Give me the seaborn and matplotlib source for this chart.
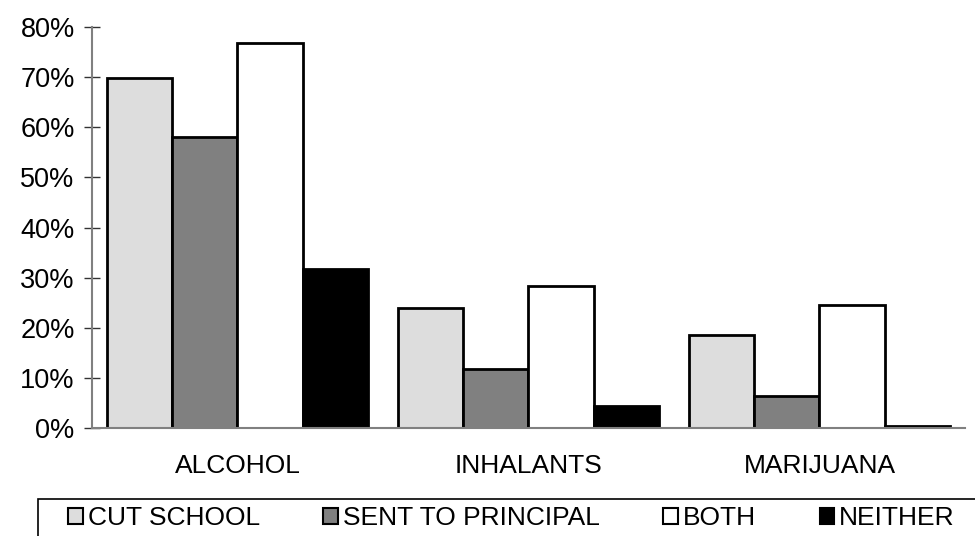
import pandas as pd
import numpy as np
import matplotlib
matplotlib.use("Agg")
import matplotlib.pyplot as plt
import seaborn as sns
from matplotlib.ticker import PercentFormatter, FixedLocator

# data
categories = ['ALCOHOL', 'INHALANTS', 'MARIJUANA']
series = ['CUT SCHOOL', 'SENT TO PRINCIPAL', 'BOTH', 'NEITHER']
cut_school = [0.698, 0.240, 0.186]
sent_to_principal = [0.580, 0.118, 0.063]
both = [0.768, 0.284, 0.245]
neither = [0.317, 0.043, 0.004]

colors = ['#DDDDDD', '#808080', '#FFFFFF', '#000000']

rows = []
for name, vals in zip(series, [cut_school, sent_to_principal, both, neither]):
    for cat, v in zip(categories, vals):
        rows.append({'Category': cat, 'Series': name, 'Value': v})
df = pd.DataFrame(rows)

sns.set_style('white')
plt.rcParams['font.family'] = ['Liberation Sans', 'DejaVu Sans']
plt.rcParams['text.color'] = 'black'
plt.rcParams['xtick.labelcolor'] = 'black'
plt.rcParams['ytick.labelcolor'] = 'black'

fig = plt.figure(figsize=(9.75, 5.36), dpi=100)
ax = fig.add_axes([92 / 975, 108 / 536, 873 / 975, 401 / 536])

sns.barplot(data=df, x='Category', y='Value', hue='Series', hue_order=series,
            palette=colors, edgecolor='black', linewidth=2, width=0.895, gap=0,
            ax=ax, legend=False)

ax.set_xlim(-0.5, 2.5)
ax.set_ylim(0, 0.8)
ax.yaxis.set_major_formatter(PercentFormatter(1.0, decimals=0))
ax.set_yticks(np.arange(0, 0.81, 0.1))
ax.set_xlabel('')
ax.set_ylabel('')

# tick marks at the category boundaries, labels at the centers
ax.xaxis.set_minor_locator(FixedLocator([-0.5, 0.5, 1.5, 2.5]))
ax.tick_params(axis='x', which='major', length=0, pad=19, labelsize=19)
ax.tick_params(axis='x', which='minor', length=11, direction='inout', color='#333333', width=1)
ax.tick_params(axis='y', which='major', length=11, direction='inout', color='#333333',
               width=1, labelsize=19.5, pad=7)
ax.tick_params(left=True, bottom=True)

for side in ['top', 'right']:
    ax.spines[side].set_visible(False)
for side in ['left', 'bottom']:
    ax.spines[side].set_color('#808080')
    ax.spines[side].set_linewidth(1.5)

# legend below the plot, box runs off the right and bottom edges
frame = plt.Rectangle((38 / 975, -0.1), 1.0, 0.1 + (536 - 499) / 536,
                      transform=fig.transFigure, facecolor='none',
                      edgecolor='black', linewidth=1.2, clip_on=False)
fig.add_artist(frame)

handles = [plt.Rectangle((0, 0), 1, 1, facecolor=c, edgecolor='black', linewidth=1.5)
           for c in colors]
leg = fig.legend(handles, series, loc='upper left', ncol=4,
                 bbox_to_anchor=(68 / 975, 1 - 506 / 536), frameon=False,
                 fontsize=19, handlelength=0.55, handleheight=0.55,
                 handletextpad=0.2, columnspacing=2.4, borderpad=0,
                 borderaxespad=0)

fig.savefig('out.png', dpi=100)
